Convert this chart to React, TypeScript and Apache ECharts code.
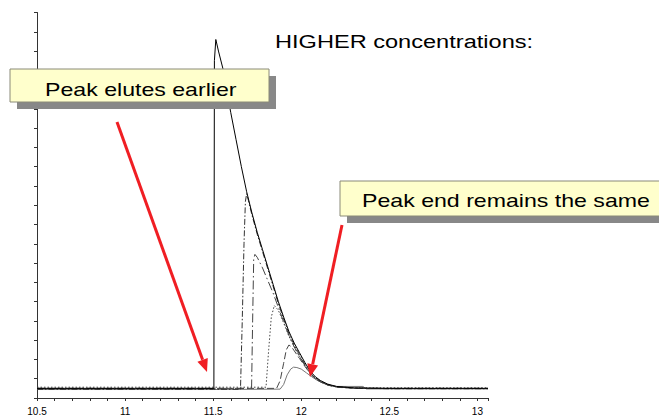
import React, { useEffect, useRef } from 'react';
import * as echarts from 'echarts';

// X tick labels (retention time)
const xTickLabels = ['10.5', '11', '11.5', '12', '12.5', '13'];

// Series A: highest concentration (solid black)
const xA = [10.5, 11.0, 11.3, 11.504, 11.507, 11.515, 11.53, 11.555, 11.58, 11.6, 11.63, 11.66, 11.69, 11.72, 11.75, 11.78, 11.81, 11.84, 11.87, 11.9, 11.93, 11.96, 11.99, 12.02, 12.05, 12.08, 12.11, 12.15, 12.2, 12.3, 12.5, 13.06];
const yA = [0.5, 0.5, 0.5, 0.5, 17.5, 18.6, 18.0, 17.1, 15.8, 14.8, 13.4, 12.0, 10.7, 9.6, 8.6, 7.7, 6.8, 5.9, 5.0, 4.2, 3.45, 2.85, 2.35, 1.85, 1.4, 1.1, 0.9, 0.72, 0.6, 0.52, 0.5, 0.5];

// Series B: dash-dot
const xB = [10.5, 11.5, 11.655, 11.665, 11.675, 11.683, 11.69, 11.7, 11.72, 11.75, 11.78, 11.81, 11.84, 11.87, 11.9, 11.93, 11.96, 11.99, 12.02, 12.05, 12.08, 12.11, 12.15, 12.2, 12.3, 12.5, 13.06];
const yB = [0.45, 0.45, 0.45, 4.0, 8.0, 10.2, 10.6, 10.25, 9.5, 8.5, 7.6, 6.7, 5.8, 4.9, 4.1, 3.35, 2.75, 2.25, 1.75, 1.33, 1.05, 0.87, 0.7, 0.58, 0.52, 0.48, 0.48];

// Series C: long dash
const xC = [10.5, 11.5, 11.718, 11.724, 11.73, 11.737, 11.75, 11.78, 11.81, 11.84, 11.87, 11.9, 11.93, 11.96, 11.99, 12.02, 12.05, 12.08, 12.11, 12.15, 12.2, 12.3, 12.5, 13.06];
const yC = [0.5, 0.5, 0.5, 4.0, 7.2, 7.45, 7.3, 6.75, 6.1, 5.45, 4.7, 3.95, 3.25, 2.65, 2.15, 1.7, 1.3, 1.02, 0.85, 0.68, 0.57, 0.51, 0.5, 0.5];

// Series D: dotted
const xD = [10.5, 11.5, 11.8, 11.815, 11.83, 11.847, 11.87, 11.9, 11.93, 11.96, 11.99, 12.02, 12.05, 12.08, 12.11, 12.15, 12.2, 12.3, 12.5, 13.06];
const yD = [0.56, 0.56, 0.56, 2.5, 4.2, 4.8, 4.55, 3.9, 3.2, 2.65, 2.15, 1.7, 1.28, 1.0, 0.84, 0.68, 0.57, 0.53, 0.53, 0.53];

// Series E: dashed small hump
const xE = [10.5, 11.5, 11.86, 11.88, 11.9, 11.915, 11.93, 11.945, 11.96, 11.99, 12.02, 12.05, 12.08, 12.11, 12.15, 12.2, 12.3, 12.5, 13.06];
const yE = [0.5, 0.5, 0.5, 0.9, 1.8, 2.5, 2.75, 2.65, 2.45, 2.05, 1.65, 1.27, 1.0, 0.83, 0.67, 0.56, 0.5, 0.5, 0.5];

// Series F: lowest concentration (solid grey)
const xF = [10.5, 11.5, 11.88, 11.9, 11.92, 11.94, 11.956, 11.975, 12.0, 12.03, 12.06, 12.09, 12.12, 12.16, 12.2, 12.35, 12.37, 12.5, 13.06];
const yF = [0.44, 0.44, 0.46, 0.7, 1.2, 1.5, 1.6, 1.58, 1.5, 1.3, 1.1, 0.92, 0.78, 0.65, 0.6, 0.6, 0.47, 0.47, 0.47];

const zip = (xs: number[], ys: number[]) => xs.map((x, i) => [x, ys[i]]);

const RED = '#F01E23';

function arrow(x1: number, y1: number, x2: number, y2: number) {
  const dx = x2 - x1;
  const dy = y2 - y1;
  const len = Math.sqrt(dx * dx + dy * dy);
  const ux = dx / len;
  const uy = dy / len;
  const headLen = 13;
  const headW = 5.5;
  const bx = x2 - ux * headLen;
  const by = y2 - uy * headLen;
  return [
    {
      type: 'line',
      shape: { x1, y1, x2: bx, y2: by },
      style: { stroke: RED, lineWidth: 3 },
      z: 100,
    },
    {
      type: 'polygon',
      shape: {
        points: [
          [x2, y2],
          [bx - uy * headW, by + ux * headW],
          [bx + uy * headW, by - ux * headW],
        ],
      },
      style: { fill: RED },
      z: 100,
    },
  ];
}

function noteBox(x: number, y: number, w: number, h: number, text: string, tx: number, ty: number) {
  return [
    { type: 'rect', shape: { x: x + 7, y: y + 7, width: w, height: h }, style: { fill: '#888888' }, z: 110 },
    { type: 'rect', shape: { x, y, width: w, height: h }, style: { fill: '#FFFFCC', stroke: '#8a8a78', lineWidth: 1 }, z: 111 },
    {
      type: 'text',
      x: tx,
      y: ty,
      scaleX: 1.285,
      style: {
        text,
        fontSize: 18,
        fontFamily: '"Liberation Sans", Arial, sans-serif',
        fill: '#000',
        verticalAlign: 'middle',
        align: 'left',
      },
      z: 112,
    },
  ];
}

export default function App() {
  const ref = useRef<HTMLDivElement>(null);
  useEffect(() => {
    if (!ref.current) return;
    const chart = echarts.init(ref.current, null, { renderer: 'svg' });
    const mk = (name: string, xs: number[], ys: number[], color: string, type: any) => ({
      name,
      type: 'line',
      data: zip(xs, ys),
      showSymbol: false,
      symbol: 'none',
      lineStyle: { color, width: 1, type },
      silent: true,
    });
    chart.setOption({
      animation: false,
      backgroundColor: '#ffffff',
      grid: { left: 37, right: 171, top: 12.5, bottom: 13 },
      xAxis: {
        type: 'value',
        min: 10.5,
        max: 13.06,
        interval: 0.5,
        axisLine: { show: true, lineStyle: { color: '#333', width: 1 } },
        axisTick: { show: true, length: 3, lineStyle: { color: '#333' } },
        minorTick: { show: true, splitNumber: 5, length: 3, lineStyle: { color: '#333' } },
        splitLine: { show: false },
        axisLabel: {
          fontSize: 10,
          color: '#000',
          margin: 8,
          fontFamily: '"Liberation Sans", Arial, sans-serif',
          showMaxLabel: false,
          formatter: (v: number) => {
            const idx = Math.round((v - 10.5) / 0.5);
            return Math.abs(v - (10.5 + idx * 0.5)) < 1e-6 ? xTickLabels[idx] ?? '' : '';
          },
        },
      },
      yAxis: {
        type: 'value',
        min: 0,
        max: 20,
        interval: 1,
        axisLine: { show: true, lineStyle: { color: '#333', width: 1 } },
        axisTick: { show: true, length: 3, lineStyle: { color: '#333' } },
        axisLabel: { show: false },
        splitLine: { show: false },
      },
      series: [
        mk('F', xF, yF, '#777777', 'solid'),
        mk('E', xE, yE, '#444444', [7, 3]),
        mk('D', xD, yD, '#444444', [1.5, 2]),
        mk('C', xC, yC, '#444444', [9, 3, 1.5, 3]),
        mk('B', xB, yB, '#333333', [6, 2, 1.5, 2]),
        mk('A', xA, yA, '#000000', 'solid'),
      ],
      graphic: [
        ...arrow(117, 122, 207, 372),
        ...arrow(342, 225, 310, 377),
        ...noteBox(10, 69, 259, 33, 'Peak elutes earlier', 45, 89),
        ...noteBox(340, 181, 340, 35, 'Peak end remains the same', 362, 200),
        {
          type: 'text',
          x: 275,
          y: 42,
          scaleX: 1.31,
          style: {
            text: 'HIGHER concentrations:',
            fontSize: 18,
            fontFamily: '"Liberation Sans", Arial, sans-serif',
            fill: '#000',
            verticalAlign: 'middle',
            align: 'left',
          },
          z: 112,
        },
      ],
    });
    return () => chart.dispose();
  }, []);
  return (
    <div
      ref={ref}
      style={{ position: 'fixed', left: 0, top: 0, width: 659, height: 416, background: '#fff' }}
    />
  );
}
